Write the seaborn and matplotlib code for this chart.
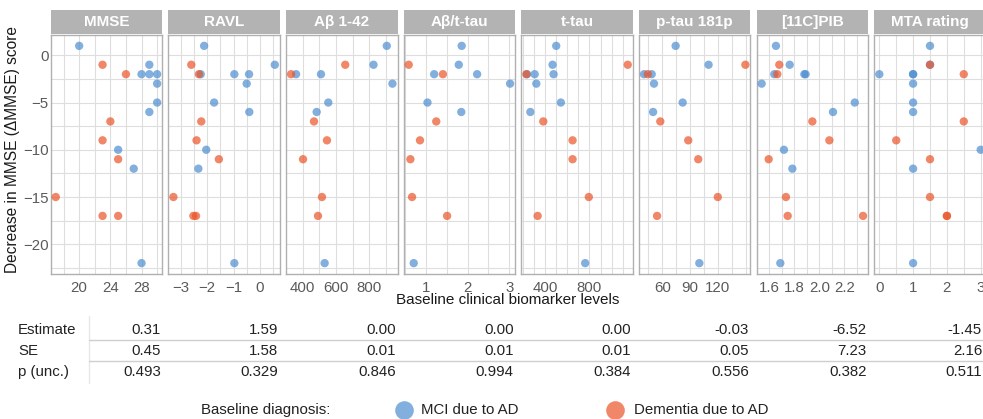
import numpy as np
import pandas as pd
import matplotlib
matplotlib.use("Agg")
import matplotlib.pyplot as plt
import seaborn as sns

sns.set_style("white")
plt.rcParams['font.family'] = ['Liberation Sans', 'DejaVu Sans']

nan = np.nan

# Decrease in MMSE per subject (same subject order in every panel)
dmmse_mci = [1, -1, -2, -2, -2, -3, -5, -6, -10, -12, -22]
dmmse_dem = [-1, -2, -7, -9, -11, -15, -17, -17]

# Baseline biomarker values, MCI due to AD
mmse_mci = [20, 29, 28, 29, 30, 30, 30, 29, 25, 27, 28]
ravl_mci = [-2.12, 0.57, -2.25, -0.97, -0.41, -0.50, -1.74, -0.40, -2.04, -2.34, -0.97]
ab42_mci = [906, 826, 360, 510, nan, 940, 554, 484, nan, nan, 532]
abtau_mci = [1.86, 1.79, 1.20, 2.23, nan, 3.02, 1.04, 1.85, nan, nan, 0.71]
ttau_mci = [499, 466, 304, 235, 475, 319, 541, 265, nan, nan, 761]
ptau_mci = [74.4, 110, 40.2, 48.5, nan, 51, 82, 50, nan, nan, 100]
pib_mci = [1.653, 1.763, 1.64, 1.88, 1.89, 1.539, 2.283, 2.109, 1.717, 1.784, 1.688]
mta_mci = [1.5, 1.5, 0, 1, 1, 1, 1, 1, 3, 1, 1]

# Baseline biomarker values, Dementia due to AD
mmse_dem = [23, 26, 24, 23, 25, 17, 23, 25]
ravl_dem = [-2.61, -2.32, -2.23, -2.41, -1.56, -3.29, -2.53, -2.43]
ab42_dem = [656, 330, 468, 546, 402, 516, 492, nan]
abtau_dem = [0.59, 1.41, 1.25, 0.86, 0.63, 0.67, 1.51, nan]
ttau_dem = [1146, 229, 382, 647, 647, 794, 331, nan]
ptau_dem = [149.8, 44.2, 57.8, 88, 98.8, 120, 54.3, nan]
pib_dem = [1.68, 1.664, 1.944, 2.08, 1.595, 1.733, 1.747, 2.349]
mta_dem = [1.5, 2.5, 2.5, 0.5, 1.5, 1.5, 2, 2]

panels = ["MMSE", "RAVL", "A\u03b2 1-42", "A\u03b2/t-tau", "t-tau", "p-tau 181p", "[11C]PIB", "MTA rating"]
mci_vals = [mmse_mci, ravl_mci, ab42_mci, abtau_mci, ttau_mci, ptau_mci, pib_mci, mta_mci]
dem_vals = [mmse_dem, ravl_dem, ab42_dem, abtau_dem, ttau_dem, ptau_dem, pib_dem, mta_dem]

# regression results per panel
estimates = [0.31, 1.59, 0.00, 0.00, 0.00, -0.03, -6.52, -1.45]
std_err = [0.45, 1.58, 0.01, 0.01, 0.01, 0.05, 7.23, 2.16]
p_unc = [0.493, 0.329, 0.846, 0.994, 0.384, 0.556, 0.382, 0.511]

groups = ["MCI due to AD", "Dementia due to AD"]
palette = {"MCI due to AD": "#4D8ED0", "Dementia due to AD": "#EA5429"}

rows = []
for name, mv, dv in zip(panels, mci_vals, dem_vals):
    for x, y in zip(mv, dmmse_mci):
        rows.append((name, x, y, groups[0]))
    for x, y in zip(dv, dmmse_dem):
        rows.append((name, x, y, groups[1]))
df = pd.DataFrame(rows, columns=["biomarker", "value", "dmmse", "diagnosis"]).dropna()

# axis ticks per panel: (major, labels, minor)
xticks = [
    ([20, 24, 28], None, [18, 22, 26, 30]),
    ([-3, -2, -1, 0], None, [-2.5, -1.5, -0.5, 0.5]),
    ([400, 600, 800], None, [500, 700, 900]),
    ([1, 2, 3], None, [0.5, 1.5, 2.5]),
    ([200, 400, 600, 800, 1000], ["", "400", "", "800", ""], [300, 500, 700, 900, 1100]),
    ([60, 90, 120, 150], ["60", "90", "120", ""], [45, 75, 105, 135]),
    ([1.6, 1.8, 2.0, 2.2], ["1.6", "1.8", "2.0", "2.2"], [1.5, 1.7, 1.9, 2.1, 2.3]),
    ([0, 1, 2, 3], None, [0.5, 1.5, 2.5]),
]

W, H = 983, 419
fig = plt.figure(figsize=(W / 100, H / 100), dpi=100)

p_left0, p_step, p_w = 50.7, 117.65, 111.5
p_top, p_bot = 35, 274
s_top, s_bot = 10, 34

grid_c = "#DEDEDE"
border_c = "#B0B0B0"
tick_c = "#5A5A5A"
fs = 10.8

axes = []
for i, name in enumerate(panels):
    left = p_left0 + i * p_step
    ax = fig.add_axes([left / W, (H - p_bot) / H, p_w / W, (p_bot - p_top) / H],
                      sharey=axes[0] if axes else None)
    sub = df[df["biomarker"] == name]
    sns.scatterplot(data=sub, x="value", y="dmmse", hue="diagnosis", hue_order=groups,
                    palette=palette, alpha=0.7, s=36, linewidth=0, legend=False,
                    ax=ax, zorder=3)
    xlim = ax.get_xlim()
    major, labels, minor = xticks[i]
    ax.set_xticks(major)
    if labels is not None:
        ax.set_xticklabels(labels)
    ax.set_xticks(minor, minor=True)
    ax.set_xlim(xlim)
    ax.set_yticks([0, -5, -10, -15, -20])
    ax.set_yticks([-2.5, -7.5, -12.5, -17.5, -22.5], minor=True)
    ax.grid(True, which="both", color=grid_c, linewidth=0.8, zorder=0)
    ax.set_axisbelow(True)
    ax.set_xlabel("")
    ax.set_ylabel("")
    for sp in ax.spines.values():
        sp.set_color(border_c)
        sp.set_linewidth(1.0)
    ax.tick_params(axis="x", which="major", length=3, width=0.8, color=border_c,
                   labelsize=fs, labelcolor=tick_c, pad=2)
    ax.tick_params(axis="y", which="major", length=0, labelsize=fs,
                   labelcolor=tick_c, pad=1.5)
    ax.tick_params(which="minor", length=0)
    ax.tick_params(axis="y", left=(i == 0), labelleft=(i == 0))
    axes.append(ax)

    # facet strip
    sax = fig.add_axes([left / W, (H - s_bot) / H, p_w / W, (s_bot - s_top) / H])
    sax.set_facecolor("#B3B3B3")
    sax.set_xticks([])
    sax.set_yticks([])
    for sp in sax.spines.values():
        sp.set_visible(False)
    sax.text(0.5, 0.5, name, ha="center", va="center", color="white",
             fontsize=11, fontweight="bold", transform=sax.transAxes)

# overlay in pixel coordinates for titles, table and legend
ov = fig.add_axes([0, 0, 1, 1])
ov.set_xlim(0, W)
ov.set_ylim(H, 0)
ov.axis("off")

ov.text(13, 149, "Decrease in MMSE (\u0394MMSE) score", rotation=90,
        ha="center", va="center", fontsize=11.2, color="#1A1A1A")
ov.text(508, 300, "Baseline clinical biomarker levels", ha="center", va="center",
        fontsize=11, color="#1A1A1A")

# statistics table
row_y = [330, 350.5, 371.5]
row_names = ["Estimate", "SE", "p (unc.)"]
row_vals = [[f"{v:.2f}" for v in estimates],
            [f"{v:.2f}" for v in std_err],
            [f"{v:.3f}" for v in p_unc]]
ov.plot([89, 89], [316, 383], color="#E8E8E8", lw=1)
for yl in [340, 361]:
    ov.plot([89, W], [yl, yl], color="#CFCFCF", lw=1)
for ry, rn, vals in zip(row_y, row_names, row_vals):
    ov.text(18, ry, rn, ha="left", va="center", fontsize=fs, color="#222222")
    for i, v in enumerate(vals):
        xr = min(p_left0 + i * p_step + p_w - 1.5, 982)
        ov.text(xr, ry, v, ha="right", va="center", fontsize=fs, color="#222222")

# legend
leg_y = 410
ov.text(330, leg_y, "Baseline diagnosis:", ha="right", va="center", fontsize=fs, color="#222222")
for cx, tx, g in [(404, 421, groups[0]), (615, 634, groups[1])]:
    ov.scatter([cx], [leg_y], s=180, color=palette[g], alpha=0.7, linewidth=0)
    ov.text(tx, leg_y, g, ha="left", va="center", fontsize=fs, color="#222222")

fig.savefig("out.png", dpi=100)
